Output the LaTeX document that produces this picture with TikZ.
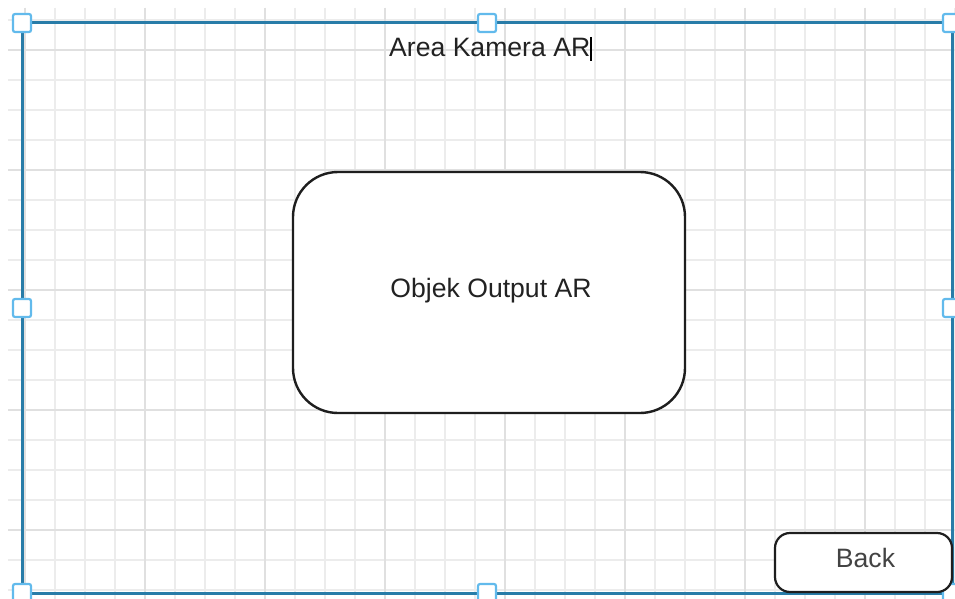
\documentclass[tikz,border=0pt]{standalone}
\usepackage{fontspec}
\setmainfont{Liberation Sans}
\definecolor{gridminor}{RGB}{236,236,236}
\definecolor{gridmajor}{RGB}{224,224,224}
\definecolor{framecol}{RGB}{40,124,168}
\definecolor{handlecol}{RGB}{98,186,236}
\definecolor{inkcol}{RGB}{30,30,30}
\definecolor{textcol}{RGB}{34,34,34}
\tikzset{
  uitext/.style={text=textcol, font=\fontsize{26.6}{30}\selectfont, inner sep=0pt},
  panel/.style={draw=inkcol, line width=2.4pt, fill=white, rounded corners=45pt,
                minimum width=392pt, minimum height=241pt, inner sep=0pt},
  button/.style={draw=inkcol, line width=2.2pt, fill=white, rounded corners=15pt,
                 minimum width=177pt, minimum height=59pt, inner sep=0pt},
  handle/.style={draw=handlecol, line width=2.2pt, fill=white, rounded corners=2pt,
                 minimum size=18pt, inner sep=0pt},
  frameline/.style={draw=framecol, line width=3pt},
}
\begin{document}
\begin{tikzpicture}[x=1pt, y=-1pt]
  \useasboundingbox (0,0) rectangle (955,599);
  \fill[white] (0,0) rectangle (955,599);

  % background grid: minor every 30, major every 120
  \foreach \gx in {25,55,...,955}
    \draw[gridminor, line width=1.3pt] (\gx,8) -- (\gx,599);
  \foreach \gy in {20,50,...,599}
    \draw[gridminor, line width=1.3pt] (8,\gy) -- (955,\gy);
  \foreach \gx in {25,145,...,955}
    \draw[gridmajor, line width=1.3pt] (\gx,8) -- (\gx,599);
  \foreach \gy in {50,170,...,599}
    \draw[gridmajor, line width=1.3pt] (8,\gy) -- (955,\gy);

  % selected camera area with its resize handles
  \coordinate (tl) at (22,23);
  \coordinate (br) at (952,593);
  \draw[frameline] (tl) rectangle (br);
  \foreach \hx/\hy/\hn in {22/23/a, 487/23/b, 952/23/c, 22/308/d, 952/308/e,
                           22/593/f, 487/593/g, 952/593/h}
    \node[handle] (handle-\hn) at (\hx,\hy) {};

  % title with text cursor
  \node[uitext, anchor=base west] (title) at (389,57) {Area Kamera AR};
  \coordinate (cursortop) at (591,37);
  \coordinate (cursorbot) at (591,61);
  \draw[black, line width=2pt] (cursortop) -- (cursorbot);

  % AR output object
  \node[panel] (object) at (489,292.5) {};
  \node[uitext, anchor=base] (objlabel) at (491,297) {Objek Output AR};

  % back button
  \node[button] (back) at (863.5,562.5) {};
  \node[uitext, anchor=base, text=textcol!85!white] (backlabel) at (865.5,567) {Back};
\end{tikzpicture}
\end{document}
